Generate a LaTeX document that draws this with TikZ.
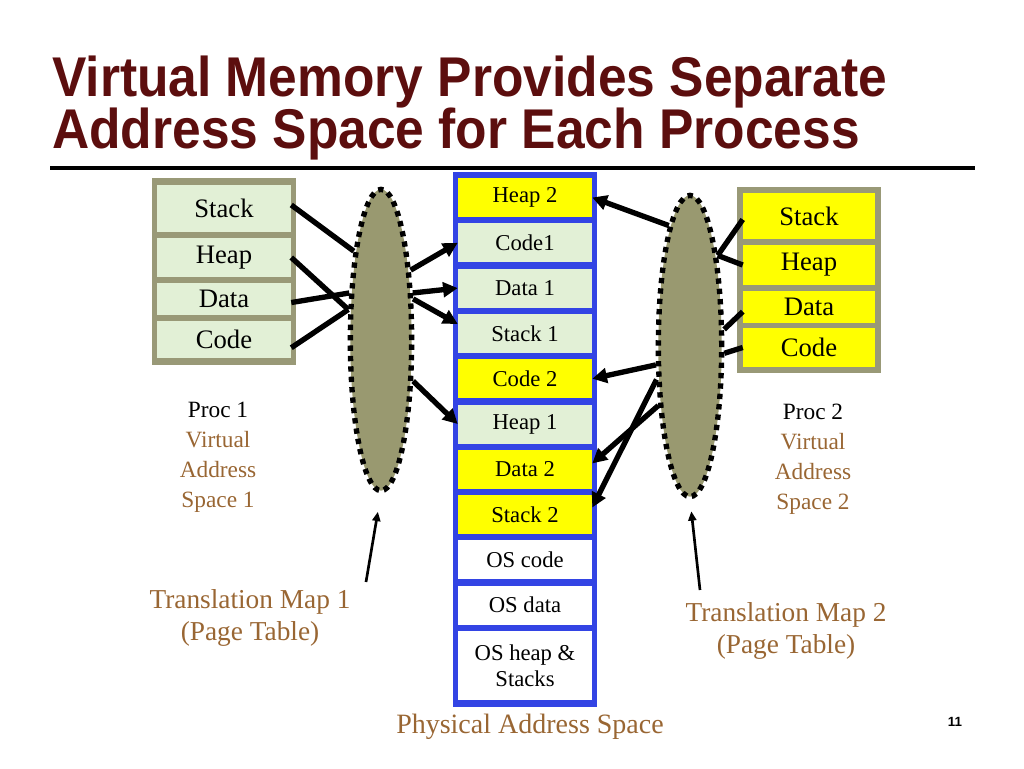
\documentclass[tikz,border=0pt]{standalone}
\usepackage{fontspec}
\setmainfont{Liberation Serif}
\newfontfamily\headfont{Liberation Sans}
\usetikzlibrary{arrows.meta,shapes.geometric}
\definecolor{titlered}{RGB}{92,14,14}
\definecolor{olivebox}{RGB}{153,153,119}
\definecolor{olivemap}{RGB}{153,153,112}
\definecolor{paleleaf}{RGB}{226,240,214}
\definecolor{brightyellow}{RGB}{255,255,0}
\definecolor{physblue}{RGB}{51,68,228}
\definecolor{labelbrown}{RGB}{153,102,51}
\newcommand{\narrowhead}[1]{\scalebox{0.92}[1]{#1}}
\tikzset{
  cell/.style={inner sep=0pt, minimum width=100.5pt, font={\fontsize{20}{24}\selectfont}},
  physcell/.style={inner sep=0pt, minimum width=100.5pt, minimum height=29.25pt,
    align=center, font={\fontsize{17}{19.5}\selectfont}},
  transmap/.style={ellipse, fill=olivemap, draw=black, line width=4pt,
    dash pattern=on 4pt off 3.8pt, minimum height=226pt, inner sep=0pt},
  link/.style={line width=4pt},
  linkarrow/.style={line width=4pt, -{Triangle[length=11pt,width=11pt]}},
  pointer/.style={line width=2pt, -{Triangle[length=7pt,width=6pt]}},
  headline/.style={anchor=base west, inner sep=0pt, text=titlered,
    font={\headfont\bfseries\fontsize{42}{42}\selectfont}},
  brownnote/.style={align=center, text=labelbrown, font={\fontsize{20.5}{24}\selectfont}},
  procnote/.style={align=center, text=labelbrown, font={\fontsize{17.5}{22.5}\selectfont}}
}
\begin{document}
\begin{tikzpicture}[x=0.75pt, y=-0.75pt]
    \useasboundingbox (0,0) rectangle (1024,768);
    \node[headline] (title-1) at (52,96) {\narrowhead{Virtual Memory Provides Separate}};
    \node[headline] (title-2) at (52,148) {\narrowhead{Address Space for Each Process}};
    \draw[line width=3pt] (50,168) -- (975,168);

    \fill[olivebox] (152,178) rectangle (296,365);
    \foreach \name/\y/\h [count=\i] in {Stack/208.5/47, Heap/257.5/39, Data/299/32, Code/339.5/37}
        \node[cell, fill=paleleaf, minimum height={\h*0.75pt}] (vas1-\i) at (224,\y) {\name};
    \fill[olivebox] (737,187) rectangle (881,373);
    \foreach \name/\y/\h [count=\i] in {Stack/216/46, Heap/265/40, Data/307/32, Code/347.5/39}
        \node[cell, fill=brightyellow, minimum width=99pt, minimum height={\h*0.75pt}] (vas2-\i) at (809,\y) {\name};

    \fill[physblue] (453,172) rectangle (597,707);
    \foreach \name/\tint [count=\i] in {Heap 2/brightyellow, Code1/paleleaf, Data 1/paleleaf,
            Stack 1/paleleaf, Code 2/brightyellow, Heap 1/paleleaf, Data 2/brightyellow,
            Stack 2/brightyellow, OS code/white, OS data/white}
        \node[physcell, fill=\tint] (phys-\i) at (525,152.2+45.3*\i) {\name};
    \node[physcell, fill=white, minimum height=51.75pt] (phys-11) at (525,665.5) {OS heap \&\\Stacks};

    \node[transmap, minimum width=46pt] (map1) at (381,340) {};
    \node[transmap, minimum width=47.5pt] (map2) at (690,346) {};

    \draw[link] (vas1-1.3) -- (map1.107);
    \draw[link] (vas1-2.east) -- (map1.137);
    \draw[link] (vas1-3.-3) -- (map1.124);
    \draw[link] (vas1-4.-7) -- (map1.137);
    \draw[linkarrow] (map1.67) -- (phys-2.west);
    \draw[linkarrow] (map1.56) -- (phys-3.west);
    \draw[linkarrow] (map1.52) -- (phys-4.172);
    \draw[linkarrow] (map1.-52) -- (phys-6.west);

    \draw[link] (vas2-1.183) -- (map2.73);
    \draw[link] (vas2-2.west) -- (map2.73);
    \draw[link] (vas2-3.184) -- (map2.26);
    \draw[link] (vas2-4.west) -- (map2.-12);
    \draw[linkarrow] (map2.100) -- (phys-1.east);
    \draw[linkarrow] (map2.209) -- (phys-5.east);
    \draw[linkarrow] (map2.225) -- (phys-8.6);
    \draw[linkarrow] (map2.242) -- (phys-7.5);

    \node[procnote] (proc-1) at (218,457) {\textcolor{black}{Proc 1}\\Virtual\\Address\\Space 1};
    \node[procnote] (proc-2) at (813,459) {\textcolor{black}{Proc 2}\\Virtual\\Address\\Space 2};
    \node[brownnote] (table-1) at (250,618) {Translation Map 1\\(Page Table)};
    \node[brownnote] (table-2) at (786,631) {Translation Map 2\\(Page Table)};
    \coordinate (tail-1) at (366,582);
    \coordinate (tail-2) at (700,590);
    \draw[pointer, shorten >=14pt] (tail-1) -- (map1.south);
    \draw[pointer, shorten >=9pt] (tail-2) -- (map2.south);

    \node[brownnote, font={\fontsize{21}{24}\selectfont}] (phys-label) at (530,727) {Physical Address Space};
    \node[font={\headfont\bfseries\fontsize{10}{12}\selectfont}] (page-no) at (955,722) {11};
\end{tikzpicture}
\end{document}
